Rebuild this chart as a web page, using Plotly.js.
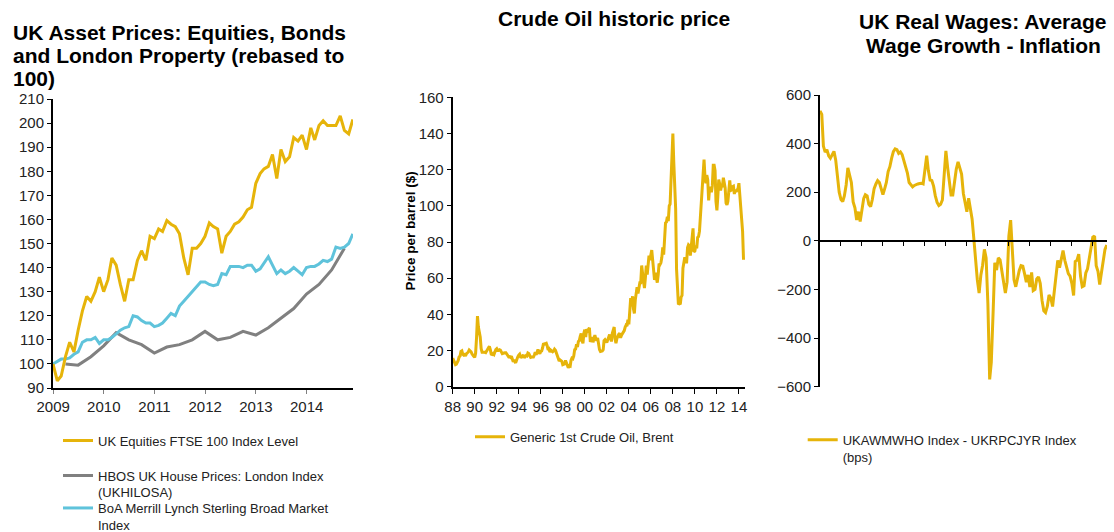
<!DOCTYPE html>
<html>
<head>
<meta charset="utf-8">
<script src="https://cdn.plot.ly/plotly-3.0.1.min.js"></script>
<style>html,body{margin:0;padding:0;background:#fff;}#chart{width:1114px;height:532px;}</style>
</head>
<body>
<div id="chart"></div>
<script>
// ---------- DATA ----------
// Left: UK asset prices rebased to 100, month-end from Dec 2008
const ftse100 = [100, 93, 95, 103, 109, 105, 114, 122, 128, 126, 130, 136,
  130, 135, 144, 141, 133, 126, 135, 135, 143, 147, 143, 153,
  152, 156, 155, 159.5, 158, 157, 154, 144, 137, 148, 148, 150,
  153, 158.5, 157, 156, 146, 153, 155, 158, 159, 161, 164, 165,
  175, 179, 181, 182, 187, 177, 189, 184, 186, 194, 192.5, 195,
  189, 198, 193, 199, 201, 199, 199, 199, 203, 197, 195.5, 201.5];
const boaSterling = [100, 101, 102, 102, 102.5, 104, 105, 109, 110, 110, 111, 108.5,
  110, 110, 111, 112.5, 114, 115, 115.5, 120, 119.5, 118, 117, 117,
  115.5, 116, 117, 119, 121, 120, 124, 126, 128, 130, 132, 134,
  134, 133, 132.5, 133, 137.5, 137, 140.5, 140.5, 140.5, 140, 141, 141,
  138.5, 139.5, 142, 144.5, 141, 137.5, 139, 137.5, 138.5, 140, 138.5, 137,
  140, 140.5, 140.5, 141.5, 143, 142.5, 143.5, 148.5, 148, 148.5, 150, 154];
// quarter-end from Mar 2009
const hbosLondon = [100, 99.5, 103, 107.5, 113, 110, 108, 104.5, 107, 108, 110, 113.5,
  110, 111, 113.5, 112, 115, 119, 123, 129, 133, 139, 148];

// Middle: Brent month-end, Jun 1988 - Nov 2014
const brent = [
  15.8, 14.5, 13.0, 12.2, 12.5, 13.2, 14.5,
  16.5, 17.0, 19.5, 19.8, 18.0, 17.5, 17.8, 17.0, 18.2, 18.5, 19.2, 20.3,
  20.0, 19.3, 18.2, 17.0, 16.8, 16.2, 18.5, 27.0, 39.0, 33.0, 30.0, 27.5,
  21.0, 19.0, 19.0, 19.2, 19.0, 18.8, 19.8, 20.5, 21.5, 22.3, 20.5, 18.0,
  17.8, 18.3, 17.8, 19.5, 20.5, 21.0, 20.0, 20.0, 20.4, 20.2, 19.0, 18.3,
  18.5, 18.9, 18.8, 18.8, 18.2, 17.2, 16.5, 16.6, 16.2, 16.8, 14.5, 13.8,
  14.8, 13.6, 13.7, 15.8, 16.5, 17.5, 18.0, 16.4, 16.3, 16.8, 17.6, 16.0,
  16.8, 17.2, 17.0, 18.6, 18.3, 16.8, 16.2, 16.4, 16.6, 16.4, 17.5, 19.0,
  17.6, 19.2, 20.6, 19.0, 18.3, 19.5, 19.8, 21.5, 24.0, 23.5, 23.8, 24.0,
  22.5, 20.3, 20.8, 19.2, 20.2, 19.4, 19.3, 19.8, 20.8, 20.2, 18.8, 16.8,
  15.3, 14.2, 14.8, 14.5, 14.0, 12.2, 12.3, 12.6, 14.5, 12.8, 11.0, 10.5,
  11.5, 11.3, 14.5, 15.8, 15.5, 17.0, 20.5, 20.8, 23.5, 22.0, 25.0, 25.5,
  27.8, 29.5, 25.5, 24.0, 29.5, 31.5, 27.5, 31.8, 30.9, 32.0, 32.5, 24.8,
  27.0, 27.5, 24.5, 27.0, 28.5, 26.5, 25.5, 27.0, 22.5, 20.5, 19.5, 19.6,
  19.8, 20.5, 25.5, 26.0, 25.5, 24.5, 25.8, 27.5, 28.8, 27.0, 25.0, 29.5,
  31.5, 33.0, 26.5, 24.0, 26.5, 28.0, 29.0, 29.5, 27.0, 28.5, 29.5, 30.0,
  31.0, 33.0, 34.0, 33.5, 37.0, 34.5, 42.0, 49.0, 44.5, 50.0, 43.0, 40.5,
  48.0, 52.0, 55.0, 51.5, 54.0, 57.5, 57.5, 67.0, 62.5, 58.0, 54.5, 60.0,
  67.0, 62.0, 66.0, 72.5, 70.0, 74.0, 75.5, 70.0, 62.5, 59.0, 63.0, 61.0,
  57.5, 62.0, 68.0, 67.5, 68.5, 71.5, 77.0, 73.0, 79.5, 90.5, 91.0, 94.0,
  91.5, 100.0, 101.0, 113.5, 127.5, 140.0, 124.0, 114.5, 98.5, 65.0, 53.5, 45.5,
  46.0, 45.5, 49.5, 50.5, 65.5, 69.5, 71.5, 69.0, 69.0, 77.0, 78.5, 78.0,
  72.5, 77.5, 82.5, 87.5, 74.5, 75.0, 78.0, 76.5, 82.5, 83.0, 86.0, 94.5,
  100.0, 112.0, 117.5, 125.5, 116.5, 112.5, 117.0, 114.5, 103.0, 109.5, 110.5, 107.5,
  111.0, 122.5, 122.5, 119.5, 102.5, 97.5, 105.0, 114.5, 112.0, 108.5, 111.0, 111.0,
  115.5, 111.5, 110.0, 101.5, 100.5, 102.5, 107.5, 114.0, 108.5, 108.8, 110.5, 110.8,
  106.5, 109.0, 107.8, 108.5, 109.5, 112.5, 106.0, 103.0, 95.0, 85.9, 70.2];

// Right: real wages (bps), monthly Jan 2001 - Sep 2014
const realWages = [535, 520, 390, 365, 375, 350, 340, 352, 368, 333, 260, 200,
  170, 162, 185, 230, 300, 265, 240, 160, 136, 86, 120, 80,
  130, 175, 190, 185, 150, 141, 170, 215, 234, 248, 240, 220,
  190, 215, 240, 285, 305, 340, 367, 378, 375, 360, 366, 355,
  330, 305, 280, 240, 232, 222, 228, 232, 234, 236, 237, 234,
  300, 350, 290, 250, 248, 225, 185, 158, 145, 150, 168, 250,
  370, 300, 252, 189, 189, 248, 295, 325, 300, 275, 195, 160,
  120, 175, 140, 90, 10, -90, -160, -215, -140, -100, -35, -70,
  -260, -570, -500, -300, -90, -120, -70, -78, -125, -160, -215, -170,
  20, 85, -20, -160, -189, -150, -122, -102, -104, -135, -170, -140,
  -190, -130, -205, -200, -157, -148, -175, -245, -288, -295, -270, -223,
  -235, -270, -200, -125, -80, -110, -80, -40, -80, -106, -135, -145,
  -175, -225, -85, -79, -55, -145, -189, -185, -132, -115, -70, -40,
  15, 20, -102, -125, -180, -130, -85, -35, -17];

// tick labels
const assetYears = ['2009', '2010', '2011', '2012', '2013', '2014'];
const oilYears = ['88','90','92','94','96','98','00','02','04','06','08','10','12','14'];
const wageYears = ['01','02','03','04','05','06','07','08','09','10','11','12','13','14'];

const seriesNames = {
  ftse: 'UK Equities FTSE 100 Index Level',
  hbos: 'HBOS UK House Prices: London Index<br>(UKHILOSA)',
  boa: 'BoA Merrill Lynch Sterling Broad Market<br>Index',
  brent: 'Generic 1st Crude Oil, Brent',
  wages: 'UKAWMWHO Index - UKRPCJYR Index<br>(bps)'
};

// ---------- helpers ----------
function pad(n) { return String(n).padStart(2, '0'); }
function monthDates(y, m, n, step, endOfMonth) {
  const out = [];
  for (let k = 0; k < n; k++) {
    const mm = (m - 1) + k * step;
    const yy = y + Math.floor(mm / 12);
    const mo = mm % 12;
    const d = endOfMonth ? new Date(Date.UTC(yy, mo + 1, 0)).getUTCDate() : 1;
    out.push(yy + '-' + pad(mo + 1) + '-' + pad(d));
  }
  return out;
}
function fullYear(yy) { const n = parseInt(yy, 10); return n >= 50 ? 1900 + n : 2000 + n; }

const GOLD = '#E6B40A', CYAN = '#5FC3DB', GRAY = '#808080';
const FONT = 'Liberation Sans, Arial, sans-serif';

const traces = [
  { x: monthDates(2009, 3, hbosLondon.length, 3, true), y: hbosLondon, name: seriesNames.hbos,
    type: 'scatter', mode: 'lines', line: { color: GRAY, width: 3 }, xaxis: 'x', yaxis: 'y', legend: 'legend2' },
  { x: monthDates(2008, 12, boaSterling.length, 1, true), y: boaSterling, name: seriesNames.boa,
    type: 'scatter', mode: 'lines', line: { color: CYAN, width: 3 }, xaxis: 'x', yaxis: 'y', legend: 'legend3' },
  { x: monthDates(2008, 12, ftse100.length, 1, true), y: ftse100, name: seriesNames.ftse,
    type: 'scatter', mode: 'lines', line: { color: GOLD, width: 3 }, xaxis: 'x', yaxis: 'y', legend: 'legend' },
  { x: monthDates(1988, 6, brent.length, 1, false), y: brent, name: seriesNames.brent,
    type: 'scatter', mode: 'lines', line: { color: GOLD, width: 3 }, xaxis: 'x2', yaxis: 'y2', legend: 'legend4' },
  { x: monthDates(2001, 1, realWages.length, 1, false), y: realWages, name: seriesNames.wages,
    type: 'scatter', mode: 'lines', line: { color: GOLD, width: 3 }, xaxis: 'x3', yaxis: 'y3', legend: 'legend5' }
];

const common = {
  showgrid: false, zeroline: false, showline: true, linecolor: '#000', linewidth: 2,
  ticks: 'outside', ticklen: 4, tickwidth: 1, tickcolor: '#000',
  tickfont: { family: FONT, size: 15, color: '#222' }, fixedrange: true, automargin: false
};

const PX = v => v / 1114;
const PY = v => 1 - v / 532;

const rightDom = [PY(386.7), PY(95)];
const zeroPos = rightDom[0] + 0.5 * (rightDom[1] - rightDom[0]);

function legendAt(xpx, ypx) {
  return { x: PX(xpx), y: PY(ypx), xanchor: 'left', yanchor: 'top', bgcolor: 'rgba(0,0,0,0)',
    borderwidth: 0, font: { family: FONT, size: 13, color: '#222' }, itemwidth: 30,
    valign: 'top', tracegroupgap: 0, itemclick: false, itemdoubleclick: false };
}

function ann(text, xpx, ypx, opts) {
  return Object.assign({ text: text, x: PX(xpx), y: PY(ypx), xref: 'paper', yref: 'paper',
    showarrow: false, xanchor: 'center', yanchor: 'middle',
    font: { family: FONT, size: 21, color: '#000', weight: 'bold' } }, opts || {});
}

const layout = {
  width: 1114, height: 532,
  margin: { l: 0, r: 0, t: 0, b: 0, pad: 0, autoexpand: false },
  paper_bgcolor: '#fff', plot_bgcolor: '#fff',
  font: { family: FONT, size: 14, color: '#222' },
  showlegend: true,
  xaxis: Object.assign({}, common, {
    domain: [PX(53), PX(353)], anchor: 'y', type: 'date',
    range: ['2008-12-31', '2014-12-01'],
    tickvals: assetYears.map(y => y + '-01-01'), ticktext: assetYears, tickcolor: '#808080'
  }),
  yaxis: Object.assign({}, common, {
    domain: [PY(388), PY(99)], anchor: 'x', range: [90, 210], tickmode: 'linear', tick0: 90, dtick: 10
  }),
  xaxis2: Object.assign({}, common, {
    domain: [PX(452.7), PX(745)], anchor: 'y2', type: 'date',
    range: ['1988-06-01', '2014-12-20'],
    tickvals: oilYears.map(y => fullYear(y) + '-06-01'), ticktext: oilYears, ticklen: 5
  }),
  yaxis2: Object.assign({}, common, {
    domain: [PY(386.7), PY(97.3)], anchor: 'x2', range: [0, 160], tickmode: 'linear', tick0: 0, dtick: 20
  }),
  xaxis3: Object.assign({}, common, {
    domain: [PX(820), PX(1107)], anchor: 'free', position: zeroPos, type: 'date',
    range: ['2001-01-01', '2014-09-05'],
    tickvals: wageYears.slice(1).map(y => fullYear(y) + '-01-01'), showticklabels: false
  }),
  xaxis4: Object.assign({}, common, {
    overlaying: 'x3', anchor: 'y3', side: 'bottom', type: 'date',
    range: ['2001-01-01', '2014-09-05'], showline: false,
    tickvals: wageYears.map(y => fullYear(y) + '-01-01'), ticktext: wageYears,
    ticklen: 6, tickcolor: 'rgba(0,0,0,0)'
  }),
  yaxis3: Object.assign({}, common, {
    domain: rightDom, anchor: 'x3', range: [-600, 600], tickmode: 'linear', tick0: -600, dtick: 200
  }),
  legend: legendAt(58, 425.5),
  legend2: legendAt(58, 460.5),
  legend3: legendAt(58, 493),
  legend4: legendAt(470, 421.7),
  legend5: legendAt(802.7, 424.8),
  annotations: [
    ann('UK Asset Prices: Equities, Bonds', 11, 32, { xanchor: 'left' }),
    ann('and London Property (rebased to', 11, 55.5, { xanchor: 'left' }),
    ann('100)', 11, 78.5, { xanchor: 'left' }),
    ann('Crude Oil historic price', 614, 18),
    ann('UK Real Wages: Average', 982, 21),
    ann('Wage Growth - Inflation', 983, 45),
    ann('Price per barrel ($)', 410, 231.5, { textangle: -90, font: { family: FONT, size: 13.5, color: '#000', weight: 'bold' } })
  ]
};

Plotly.newPlot('chart', traces, layout, { staticPlot: true, displayModeBar: false });
</script>
</body>
</html>
